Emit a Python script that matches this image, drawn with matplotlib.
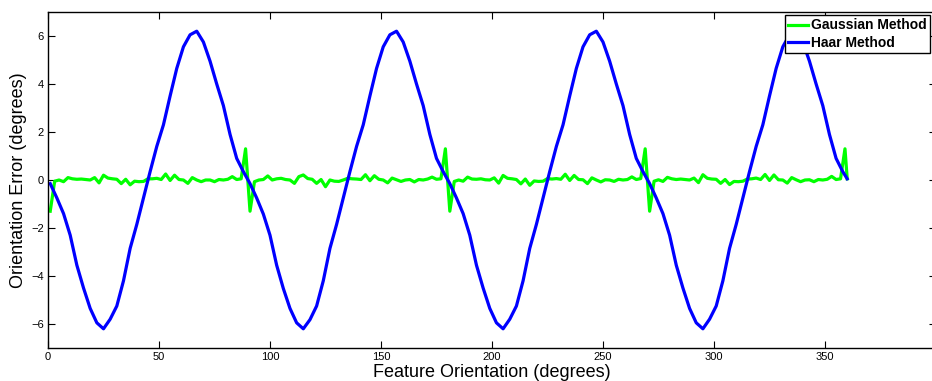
import numpy as np
import matplotlib.pyplot as plt

plt.rcParams['font.family'] = ['Liberation Sans', 'DejaVu Sans']

# ---- data -----------------------------------------------------------------
# Gaussian method: odd orientations 1..359 plus the last sample at 360
gauss_deg = list(range(1, 360, 2)) + [360]
gauss_err = [
    # 1 .. 89
    -1.30, -0.05, 0.00, -0.07, 0.10, 0.05, 0.03, 0.04, 0.02, 0.00,
    0.10, -0.12, 0.20, 0.08, 0.05, 0.03, -0.15, 0.03, -0.20, -0.05,
    -0.07, -0.06, 0.05, 0.05, 0.07, 0.02, 0.25, -0.02, 0.20, 0.02,
    0.00, -0.14, 0.10, 0.00, -0.07, 0.00, 0.00, -0.07, 0.02, 0.00,
    0.03, 0.14, 0.02, 0.05, 1.30,
    # 91 .. 179
    -1.30, -0.07, 0.00, 0.02, 0.17, 0.00, 0.05, 0.07, 0.02, 0.00,
    -0.14, 0.14, 0.21, 0.06, 0.03, -0.14, 0.02, -0.28, 0.00, -0.05,
    -0.06, 0.00, 0.07, 0.05, 0.04, 0.02, 0.22, -0.03, 0.18, 0.03,
    0.00, -0.12, 0.08, 0.01, -0.06, 0.00, 0.02, -0.08, 0.02, 0.00,
    0.04, 0.12, 0.03, 0.05, 1.30,
    # 181 .. 269
    -1.30, -0.06, 0.00, -0.05, 0.12, 0.04, 0.03, 0.05, 0.01, 0.00,
    0.09, -0.13, 0.19, 0.07, 0.05, 0.02, -0.16, 0.04, -0.22, -0.04,
    -0.06, -0.05, 0.06, 0.04, 0.06, 0.03, 0.24, -0.02, 0.19, 0.02,
    0.01, -0.15, 0.09, 0.00, -0.08, 0.01, 0.00, -0.06, 0.03, 0.00,
    0.02, 0.13, 0.02, 0.06, 1.30,
    # 271 .. 359
    -1.30, -0.05, 0.01, -0.06, 0.11, 0.05, 0.02, 0.04, 0.02, 0.00,
    0.08, -0.11, 0.22, 0.07, 0.04, 0.03, -0.14, 0.02, -0.19, -0.06,
    -0.07, -0.05, 0.04, 0.05, 0.08, 0.02, 0.23, -0.02, 0.21, 0.01,
    0.00, -0.13, 0.10, 0.01, -0.07, 0.00, 0.01, -0.07, 0.02, 0.00,
    0.03, 0.15, 0.02, 0.05, 1.30,
    0.05,
]

# Haar method: orientations 1, 4, ..., 358 plus 360
haar_deg = list(range(1, 359, 3)) + [360]
haar_err = [
    # 1 .. 88
    -0.15, -0.75, -1.40, -2.30, -3.55, -4.50, -5.35, -5.95, -6.20, -5.80,
    -5.25, -4.20, -2.85, -1.85, -0.75, 0.35, 1.40, 2.30, 3.50, 4.65,
    5.55, 6.05, 6.20, 5.75, 4.95, 4.00, 3.10, 1.90, 0.90, 0.35,
    # 91 .. 178
    -0.15, -0.75, -1.42, -2.30, -3.55, -4.52, -5.35, -5.95, -6.20, -5.82,
    -5.25, -4.20, -2.85, -1.85, -0.75, 0.35, 1.40, 2.30, 3.50, 4.65,
    5.55, 6.05, 6.20, 5.75, 4.95, 4.00, 3.10, 1.90, 0.90, 0.35,
    # 181 .. 268
    -0.15, -0.75, -1.40, -2.30, -3.55, -4.50, -5.35, -5.95, -6.20, -5.80,
    -5.25, -4.20, -2.85, -1.85, -0.75, 0.35, 1.40, 2.30, 3.50, 4.65,
    5.55, 6.05, 6.20, 5.75, 4.95, 4.00, 3.10, 1.90, 0.90, 0.35,
    # 271 .. 358
    -0.15, -0.75, -1.40, -2.30, -3.55, -4.50, -5.35, -5.95, -6.20, -5.80,
    -5.25, -4.20, -2.85, -1.85, -0.75, 0.35, 1.40, 2.30, 3.50, 4.65,
    5.55, 6.05, 6.20, 5.75, 4.95, 4.00, 3.10, 1.90, 0.90, 0.35,
    0.05,
]

x_ticks = np.arange(0, 351, 50)
y_ticks = np.arange(-6, 7, 2)

# ---- figure ----------------------------------------------------------------
fig = plt.figure(figsize=(9.32, 3.81), dpi=100)
# axes run 0..400 deg, the right edge falls just outside the picture
ax = fig.add_axes([48/932, 33/381, 888/932, 336/381])

ax.plot(gauss_deg, gauss_err, color="#00ff00", linewidth=2.3, label="Gaussian Method")
ax.plot(haar_deg, haar_err, color="#0000ff", linewidth=2.3, label="Haar Method")

ax.set_xlim(0, 400)
ax.set_ylim(-7, 7)
ax.set_xticks(x_ticks)
ax.set_yticks(y_ticks)
ax.tick_params(direction="in", length=5, width=0.8, top=True, right=True,
               labelsize=8, pad=3, colors="black")
for sp in ax.spines.values():
    sp.set_linewidth(1.0)

ax.set_xlabel("Feature Orientation (degrees)", fontsize=13, labelpad=1.5)
ax.set_ylabel("Orientation Error (degrees)", fontsize=13, labelpad=3)

leg = ax.legend(loc="upper left", bbox_to_anchor=(785/932, 1 - 15/381),
                bbox_transform=fig.transFigure, borderaxespad=0,
                prop={"weight": "bold", "size": 10}, fancybox=False,
                framealpha=1, edgecolor="black", handlelength=1.4,
                handletextpad=0.2, borderpad=0.25, labelspacing=0.25)
leg.get_frame().set_linewidth(1.0)

plt.savefig("out.png", dpi=100)
plt.close(fig)
